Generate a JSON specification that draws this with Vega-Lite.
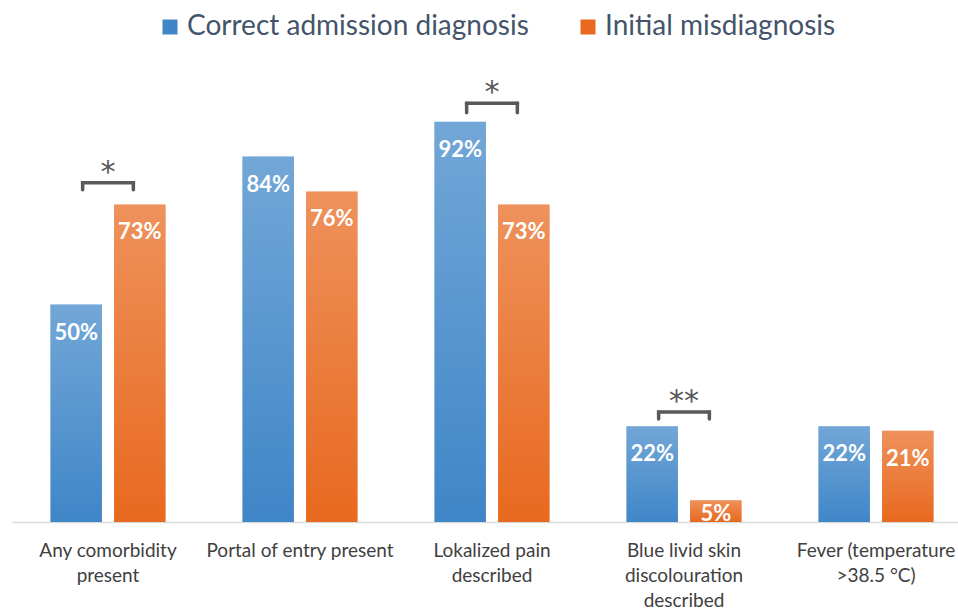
{
  "$schema": "https://vega.github.io/schema/vega-lite/v6.json",
  "width": 946,
  "height": 435,
  "autosize": "none",
  "padding": {"left": 12, "top": 87, "right": 0, "bottom": 87},
  "background": "white",
  "config": {"view": {"stroke": null}, "font": "Lato"},
  "datasets": {
    "bars": [
      {"category": "Any comorbidity present", "series": "Correct admission diagnosis", "value": 0.50},
      {"category": "Any comorbidity present", "series": "Initial misdiagnosis", "value": 0.73},
      {"category": "Portal of entry present", "series": "Correct admission diagnosis", "value": 0.84},
      {"category": "Portal of entry present", "series": "Initial misdiagnosis", "value": 0.76},
      {"category": "Lokalized pain described", "series": "Correct admission diagnosis", "value": 0.92},
      {"category": "Lokalized pain described", "series": "Initial misdiagnosis", "value": 0.73},
      {"category": "Blue livid skin discolouration described", "series": "Correct admission diagnosis", "value": 0.22},
      {"category": "Blue livid skin discolouration described", "series": "Initial misdiagnosis", "value": 0.05},
      {"category": "Fever (temperature >38.5 °C)", "series": "Correct admission diagnosis", "value": 0.22},
      {"category": "Fever (temperature >38.5 °C)", "series": "Initial misdiagnosis", "value": 0.21}
    ],
    "sig": [
      {"category": "Any comorbidity present", "level": 0.78, "tick": 0.764, "stars": "*"},
      {"category": "Lokalized pain described", "level": 0.9625, "tick": 0.941, "stars": "*"},
      {"category": "Blue livid skin discolouration described", "level": 0.253, "tick": 0.237, "stars": "**"}
    ]
  },
  "layer": [
    {
      "data": {"name": "bars"},
      "mark": {"type": "bar"},
      "encoding": {
        "x": {
          "field": "category", "type": "nominal",
          "scale": {
            "domain": ["Any comorbidity present", "Portal of entry present", "Lokalized pain described", "Blue livid skin discolouration described", "Fever (temperature >38.5 °C)"],
            "range": [0, 960], "paddingInner": 0.4, "paddingOuter": 0.2
          },
          "axis": {
            "title": null, "labelAngle": 0, "ticks": false, "domainColor": "#d9d9d9", "domainWidth": 1.5,
            "labelFont": "Lato", "labelFontSize": 19, "labelColor": "#404040", "labelPadding": 19,
            "labelLineHeight": 25, "labelBaseline": "top", "labelLimit": 300,
            "labelExpr": "datum.value == 'Any comorbidity present' ? ['Any comorbidity','present'] : datum.value == 'Lokalized pain described' ? ['Lokalized pain','described'] : datum.value == 'Blue livid skin discolouration described' ? ['Blue livid skin','discolouration','described'] : datum.value == 'Fever (temperature >38.5 °C)' ? ['Fever (temperature','>38.5 °C)'] : datum.label"
          }
        },
        "xOffset": {
          "field": "series", "type": "nominal",
          "scale": {"domain": ["Correct admission diagnosis", "Initial misdiagnosis"], "paddingInner": 0.19, "paddingOuter": 0}
        },
        "y": {"field": "value", "type": "quantitative", "scale": {"domain": [0, 1], "nice": false}, "axis": null},
        "color": {
          "field": "series", "type": "nominal",
          "scale": {"domain": ["Correct admission diagnosis", "Initial misdiagnosis"], "range": ["#3f86c8", "#e8691f"]},
          "legend": {
            "title": null, "orient": "none", "direction": "horizontal", "legendX": 144, "legendY": -74,
            "symbolType": "square", "symbolSize": 225, "symbolStrokeWidth": 0, "symbolOpacity": 1,
            "labelFont": "Lato", "labelFontSize": 28, "labelColor": "#44546a", "labelOffset": 3,
            "columnPadding": 45, "labelLimit": 500
          }
        }
      }
    },
    {
      "data": {"name": "bars"},
      "mark": {
        "type": "bar",
        "fill": {"gradient": "linear", "x1": 0, "y1": 0, "x2": 0, "y2": 1,
          "stops": [{"offset": 0, "color": "rgba(255,255,255,0.27)"}, {"offset": 1, "color": "rgba(255,255,255,0)"}]}
      },
      "encoding": {
        "x": {"field": "category", "type": "nominal"},
        "xOffset": {"field": "series", "type": "nominal"},
        "y": {"field": "value", "type": "quantitative"}
      }
    },
    {
      "data": {"name": "bars"},
      "transform": [{"filter": "datum.value >= 0.1"}],
      "mark": {"type": "text", "color": "white", "fontWeight": "bold", "fontSize": 22, "font": "Lato", "baseline": "alphabetic", "dy": 35},
      "encoding": {
        "x": {"field": "category", "type": "nominal"},
        "xOffset": {"field": "series", "type": "nominal"},
        "y": {"field": "value", "type": "quantitative"},
        "text": {"field": "value", "type": "quantitative", "format": ".0%"}
      }
    },
    {
      "data": {"name": "bars"},
      "transform": [{"filter": "datum.value < 0.1"}],
      "mark": {"type": "text", "color": "white", "fontWeight": "bold", "fontSize": 22, "font": "Lato", "baseline": "alphabetic", "dy": 21, "clip": true},
      "encoding": {
        "x": {"field": "category", "type": "nominal"},
        "xOffset": {"field": "series", "type": "nominal"},
        "y": {"field": "value", "type": "quantitative"},
        "text": {"field": "value", "type": "quantitative", "format": ".0%"}
      }
    },
    {
      "data": {"name": "sig"},
      "mark": {"type": "rule", "color": "#595959", "strokeWidth": 3.5, "strokeCap": "square"},
      "encoding": {
        "x": {"field": "category", "type": "nominal", "bandPosition": 0.28},
        "x2": {"field": "category", "bandPosition": 0.72},
        "y": {"field": "level", "type": "quantitative"}
      }
    },
    {
      "data": {"name": "sig"},
      "mark": {"type": "rule", "color": "#595959", "strokeWidth": 3.5, "strokeCap": "round"},
      "encoding": {
        "x": {"field": "category", "type": "nominal", "bandPosition": 0.28},
        "y": {"field": "level", "type": "quantitative"},
        "y2": {"field": "tick"}
      }
    },
    {
      "data": {"name": "sig"},
      "mark": {"type": "rule", "color": "#595959", "strokeWidth": 3.5, "strokeCap": "round"},
      "encoding": {
        "x": {"field": "category", "type": "nominal", "bandPosition": 0.72},
        "y": {"field": "level", "type": "quantitative"},
        "y2": {"field": "tick"}
      }
    },
    {
      "data": {"name": "sig"},
      "mark": {"type": "text", "color": "#595959", "fontSize": 30, "font": "DejaVu Sans", "baseline": "alphabetic", "dy": -1},
      "encoding": {
        "x": {"field": "category", "type": "nominal"},
        "y": {"field": "level", "type": "quantitative"},
        "text": {"field": "stars"}
      }
    }
  ]
}
